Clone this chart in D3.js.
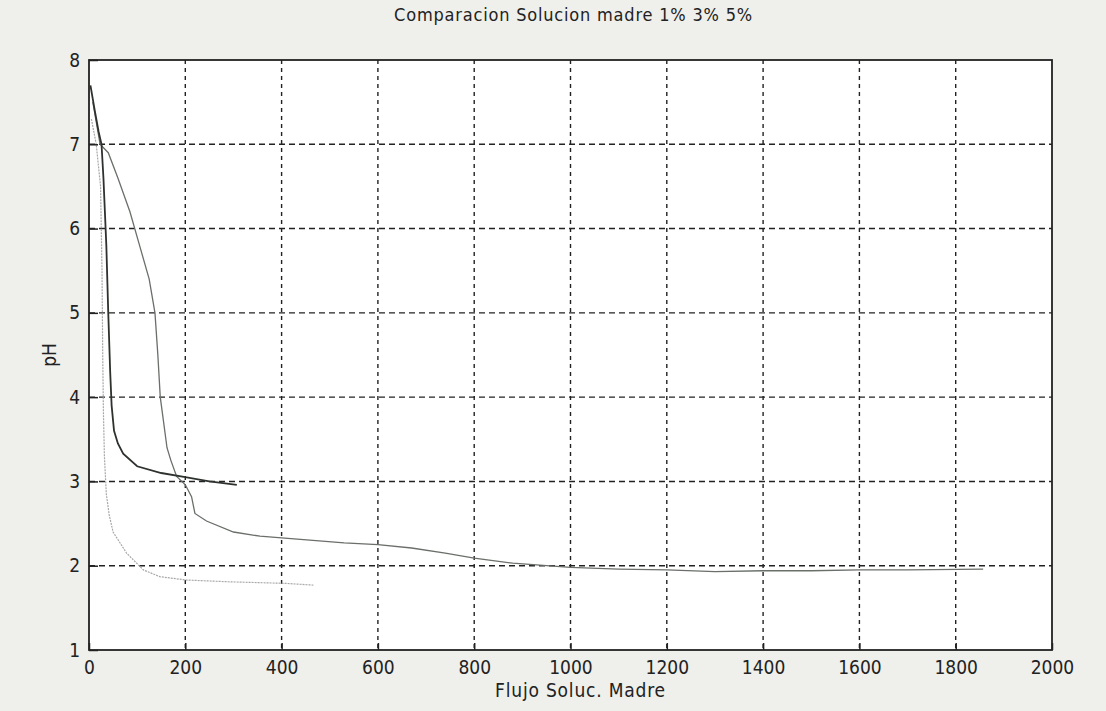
<!DOCTYPE html>
<html>
<head>
<meta charset="utf-8">
<script src="https://cdn.jsdelivr.net/npm/d3@7"></script>
<style>
  body { margin: 0; background: #efefeb; }
  svg { display: block; }
  .lbl, .tick text { font-family: "Liberation Sans Narrow", "DejaVu Sans Condensed", "Liberation Sans", sans-serif; fill: #222; }
  .tick text { font-size: 19px; }
</style>
</head>
<body>
<svg id="chart"></svg>
<script>
(function(){
    "use strict";

    const width = 1106,
        height = 711,
        margin = {top: 60, right: 54, bottom: 61, left: 89};

    const title = "Comparacion Solucion madre 1% 3% 5%";
    const xLabel = "Flujo Soluc. Madre";
    const yLabel = "pH";

    const xTicks = [0, 200, 400, 600, 800, 1000, 1200, 1400, 1600, 1800, 2000];
    const yTicks = [1, 2, 3, 4, 5, 6, 7, 8];

    // [flujo, pH]
    const dark = [[3,7.7],[12,7.4],[20,7.15],[26,7.0],[30,6.6],[33,6.2],[36,5.8],[40,5.0],
        [44,4.3],[47,3.9],[52,3.6],[60,3.45],[71,3.33],[100,3.18],[150,3.1],[200,3.05],
        [250,3.0],[307,2.96]];

    const gray = [[8,7.5],[23,7.0],[40,6.9],[60,6.6],[85,6.2],[105,5.8],[125,5.4],[137,5.0],
        [143,4.5],[148,4.0],[155,3.7],[162,3.4],[170,3.25],[182,3.06],[200,2.96],[213,2.82],
        [220,2.62],[244,2.53],[300,2.4],[355,2.35],[400,2.33],[530,2.27],[600,2.25],[670,2.21],
        [740,2.15],[800,2.09],[880,2.03],[1000,1.98],[1100,1.96],[1200,1.95],[1300,1.93],
        [1400,1.94],[1500,1.94],[1600,1.95],[1700,1.95],[1857,1.96]];

    const light = [[5,7.3],[15,7.0],[24,6.5],[27,5.5],[28.5,4.5],[30,3.8],[32,3.3],[36,2.85],
        [42,2.6],[50,2.4],[78,2.15],[113,1.95],[147,1.87],[203,1.83],[286,1.81],[410,1.79],
        [466,1.77]];

    const svg = d3.select("svg#chart")
        .attr("width", width)
        .attr("height", height);

    const iw = width - margin.left - margin.right,
        ih = height - margin.top - margin.bottom;

    const x = d3.scaleLinear().domain([0, 2000]).range([0, iw]);
    const y = d3.scaleLinear().domain([1, 8]).range([ih, 0]);

    const g = svg.append("g")
        .attr("transform", `translate(${margin.left}, ${margin.top})`);

    g.append("rect")
        .attr("width", iw)
        .attr("height", ih)
        .attr("fill", "#ffffff");

    // grid
    g.append("g")
        .selectAll("line.vx")
        .data(xTicks.slice(1, -1))
        .enter().append("line")
        .attr("x1", d => x(d)).attr("x2", d => x(d))
        .attr("y1", 0).attr("y2", ih)
        .attr("stroke", "#222")
        .attr("stroke-width", 1.4)
        .attr("stroke-dasharray", "4,4");

    g.append("g")
        .selectAll("line.hy")
        .data(yTicks.slice(1, -1))
        .enter().append("line")
        .attr("x1", 0).attr("x2", iw)
        .attr("y1", d => y(d)).attr("y2", d => y(d))
        .attr("stroke", "#222")
        .attr("stroke-width", 1.4)
        .attr("stroke-dasharray", "6,4");

    const lineY = d3.line()
        .x(d => x(d[0]))
        .y(d => y(d[1]))
        .curve(d3.curveLinear);

    g.append("path")
        .datum(light)
        .attr("d", lineY)
        .attr("fill", "none")
        .attr("stroke", "#a8a8a8")
        .attr("stroke-width", 1.2)
        .attr("stroke-dasharray", "2,1");

    g.append("path")
        .datum(gray)
        .attr("d", lineY)
        .attr("fill", "none")
        .attr("stroke", "#6a6f6a")
        .attr("stroke-width", 1.3);

    g.append("path")
        .datum(dark)
        .attr("d", lineY)
        .attr("fill", "none")
        .attr("stroke", "#2e322e")
        .attr("stroke-width", 1.8);

    // frame
    g.append("rect")
        .attr("width", iw)
        .attr("height", ih)
        .attr("fill", "none")
        .attr("stroke", "#222")
        .attr("stroke-width", 1.8);

    // axes
    const xAxis = g.append("g")
        .attr("transform", `translate(0, ${ih})`)
        .call(d3.axisBottom(x).tickValues(xTicks).tickFormat(d3.format("d")).tickSize(-7).tickPadding(11));
    const yAxis = g.append("g")
        .call(d3.axisLeft(y).tickValues(yTicks).tickFormat(d3.format("d")).tickSize(-9).tickPadding(9));

    [xAxis, yAxis].forEach(a => {
        a.select(".domain").remove();
        a.selectAll(".tick line").attr("stroke", "#222").attr("stroke-width", 1.5);
    });

    svg.append("text")
        .attr("class", "lbl")
        .attr("x", margin.left + iw / 2 + 3)
        .attr("y", 21)
        .attr("text-anchor", "middle")
        .style("font-size", "18px")
        .style("letter-spacing", "0.8px")
        .text(title);

    svg.append("text")
        .attr("class", "lbl")
        .attr("x", margin.left + iw / 2 + 10)
        .attr("y", 697)
        .attr("text-anchor", "middle")
        .style("font-size", "19px")
        .style("letter-spacing", "0.8px")
        .text(xLabel);

    svg.append("text")
        .attr("class", "lbl")
        .attr("transform", `translate(56, ${margin.top + ih / 2}) rotate(-90)`)
        .attr("text-anchor", "middle")
        .style("font-size", "19px")
        .text(yLabel);
})();
</script>
</body>
</html>
